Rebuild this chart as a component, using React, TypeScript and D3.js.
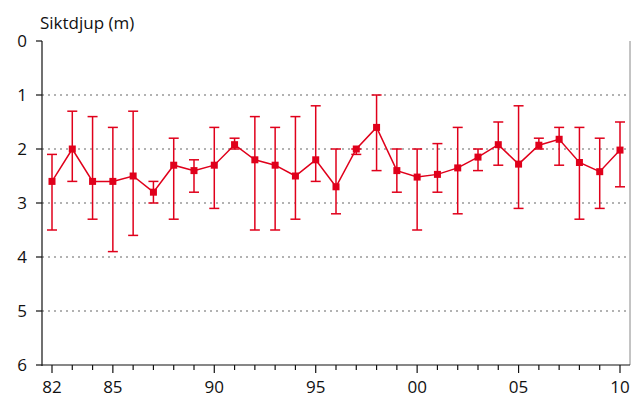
import React from "react";
import * as d3 from "d3";

const years = d3.range(1982, 2011);
const means = [2.6, 2.0, 2.6, 2.6, 2.5, 2.8, 2.3, 2.4, 2.3, 1.92, 2.2, 2.3, 2.5, 2.2, 2.7, 2.0, 1.6, 2.4, 2.52, 2.47, 2.35, 2.15, 1.92, 2.28, 1.93, 1.82, 2.25, 2.42, 2.02];
const lows = [2.1, 1.3, 1.4, 1.6, 1.3, 2.6, 1.8, 2.2, 1.6, 1.8, 1.4, 1.6, 1.4, 1.2, 2.0, 2.0, 1.0, 2.0, 2.0, 1.9, 1.6, 2.0, 1.5, 1.2, 1.8, 1.6, 1.6, 1.8, 1.5];
const highs = [3.5, 2.6, 3.3, 3.9, 3.6, 3.0, 3.3, 2.8, 3.1, 2.0, 3.5, 3.5, 3.3, 2.6, 3.2, 2.1, 2.4, 2.8, 3.5, 2.8, 3.2, 2.4, 2.3, 3.1, 2.0, 2.3, 3.3, 3.1, 2.7];
const yTicks = [0, 1, 2, 3, 4, 5, 6];
const xLabels = [1982, 1985, 1990, 1995, 2000, 2005, 2010];

const W = 634, H = 403;
const red = "#e0001b";
const font = "'Open Sans', 'DejaVu Sans', sans-serif";

export default function App() {
  const x = d3.scaleLinear().domain([1982, 2010]).range([52, 620]);
  const y = d3.scaleLinear().domain([0, 6]).range([41, 365]);
  const line = d3.line<number>().x((_, i) => x(years[i])).y(d => y(d));
  return (
    <svg width={W} height={H} style={{ position: "absolute", left: 0, top: 0 }} fontFamily={font}>
      <text x={40} y={29} fontSize={17} fill="#111">Siktdjup (m)</text>
      <line x1={630} x2={630} y1={41} y2={365} stroke="#888" strokeWidth={1} />
      {yTicks.slice(1, 6).map(t => (
        <line key={t} x1={42} x2={630} y1={y(t)} y2={y(t)} stroke="#666" strokeWidth={1.2} strokeDasharray="2,4" />
      ))}
      <line x1={42} x2={42} y1={41} y2={366} stroke="#111" strokeWidth={1.2} />
      <line x1={42} x2={630} y1={365} y2={365} stroke="#111" strokeWidth={1.2} />
      {yTicks.map(t => (
        <g key={t}>
          <line x1={36} x2={42} y1={y(t)} y2={y(t)} stroke="#111" strokeWidth={1.2} />
          <text x={22} y={y(t) + 6} fontSize={17} textAnchor="middle" fill="#111">{t}</text>
        </g>
      ))}
      {years.map(yr => (
        <line key={yr} x1={x(yr)} x2={x(yr)} y1={365} y2={xLabels.includes(yr) ? 373 : 370} stroke="#111" strokeWidth={1.2} />
      ))}
      {xLabels.map(yr => (
        <text key={yr} x={x(yr)} y={393} fontSize={17} textAnchor="middle" fill="#111">{String(yr % 100).padStart(2, "0")}</text>
      ))}
      {years.map((yr, i) => (
        <g key={yr} stroke={red} strokeWidth={1.5}>
          <line x1={x(yr)} x2={x(yr)} y1={y(lows[i])} y2={y(highs[i])} />
          <line x1={x(yr) - 5} x2={x(yr) + 5} y1={y(lows[i])} y2={y(lows[i])} />
          <line x1={x(yr) - 5} x2={x(yr) + 5} y1={y(highs[i])} y2={y(highs[i])} />
        </g>
      ))}
      <path d={line(means) ?? ""} fill="none" stroke={red} strokeWidth={1.5} />
      {years.map((yr, i) => (
        <rect key={yr} x={x(yr) - 3.5} y={y(means[i]) - 3.5} width={7} height={7} fill={red} />
      ))}
    </svg>
  );
}
